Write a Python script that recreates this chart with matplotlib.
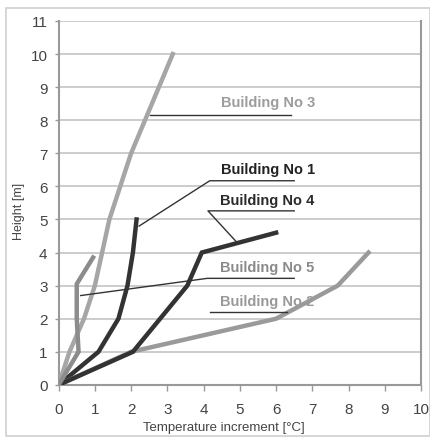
import numpy as np
import matplotlib.pyplot as plt
from matplotlib.patches import Rectangle

plt.rcParams['font.family'] = ['Liberation Sans', 'DejaVu Sans']

# dados: temperatura [°C] x altura [m]
b1_t = [0, 1.1, 1.65, 1.9, 2.05, 2.15]
b1_h = [0, 1, 2, 3, 4, 5]
b2_t = [0, 2.0, 6.0, 7.7, 8.55]
b2_h = [0, 1, 2, 3, 4]
b3_t = [0, 0.3, 0.7, 1.0, 1.4, 2.0, 3.15]
b3_h = [0, 1, 2, 3, 5, 7, 10]
b4_t = [0, 2.05, 2.8, 3.55, 3.95, 6.0]
b4_h = [0, 1, 2, 3, 4, 4.6]
b5_t = [0, 0.55, 0.5, 0.5, 0.95]
b5_h = [0, 1, 2, 3.05, 3.85]

names = ["Building No 1", "Building No 2", "Building No 3", "Building No 4", "Building No 5"]
series = [(b1_t, b1_h), (b2_t, b2_h), (b3_t, b3_h), (b4_t, b4_h), (b5_t, b5_h)]
cores = ['#333333', '#9a9a9a', '#a6a6a6', '#333333', '#8c8c8c']
cores_txt = ['#222222', '#999999', '#9c9c9c', '#2a2a2a', '#8a8a8a']

# linhas de chamada: (ponto na curva, joelho, fim do sublinhado, posição do texto)
chamadas = [
    ((2.22, 4.8), (4.17, 6.17), 6.5, (4.49, 6.53)),
    (None, (4.17, 2.21), 6.3, (4.46, 2.55)),
    ((2.52, 8.16), (2.52, 8.16), 6.42, (4.49, 8.55)),
    ((4.9, 4.33), (4.12, 5.26), 6.5, (4.45, 5.6)),
    ((0.61, 2.7), (4.1, 3.22), 6.5, (4.45, 3.56)),
]

fig = plt.figure(figsize=(4.31, 4.39), dpi=100)
ax = fig.add_axes([0.136, 0.121, 0.841, 0.829])

fig.patches.append(Rectangle((0.014, 0.005), 0.984, 0.975, transform=fig.transFigure,
                             fill=False, edgecolor='#cfcfcf', lw=1.2))

for (t, h), c in zip(series, cores):
    ax.plot(t, h, color=c, lw=3.2, solid_joinstyle='miter', zorder=3)

for nome, (p, k, fim, pos), ct in zip(names, chamadas, cores_txt):
    xs, ys = [], []
    if p is not None:
        xs.append(p[0]); ys.append(p[1])
    xs += [k[0], fim]
    ys += [k[1], k[1]]
    ax.plot(xs, ys, color='#333333', lw=1.0, zorder=4)
    ax.text(pos[0], pos[1], nome, color=ct, fontsize=10.5, fontweight='bold',
            va='center', ha='left', zorder=2)

ax.set_xlim(0, 10)
ax.set_ylim(0, 11)
ax.set_xticks(np.arange(0, 11, 1))
ax.set_yticks(np.arange(0, 12, 1))
ax.grid(axis='y', color='#c4c4c4', lw=1.2)
ax.set_axisbelow(True)
for s in ['left', 'bottom', 'right']:
    ax.spines[s].set_color('#999999')
    ax.spines[s].set_linewidth(1.5)
ax.spines['top'].set_visible(False)
ax.tick_params(axis='x', length=4, width=1, color='#999999', pad=8, labelsize=11, labelcolor='#444444')
ax.tick_params(axis='y', length=3, width=1, color='#999999', pad=5, labelsize=11, labelcolor='#444444')
ax.set_xlabel('Temperature increment [°C]', fontsize=9.5, color='#444444')
ax.set_ylabel('Height [m]', fontsize=9, color='#444444')
ax.xaxis.set_label_coords(0.456, -0.1)
ax.yaxis.set_label_coords(-0.093, 0.48)

fig.savefig('out.png', dpi=100)
